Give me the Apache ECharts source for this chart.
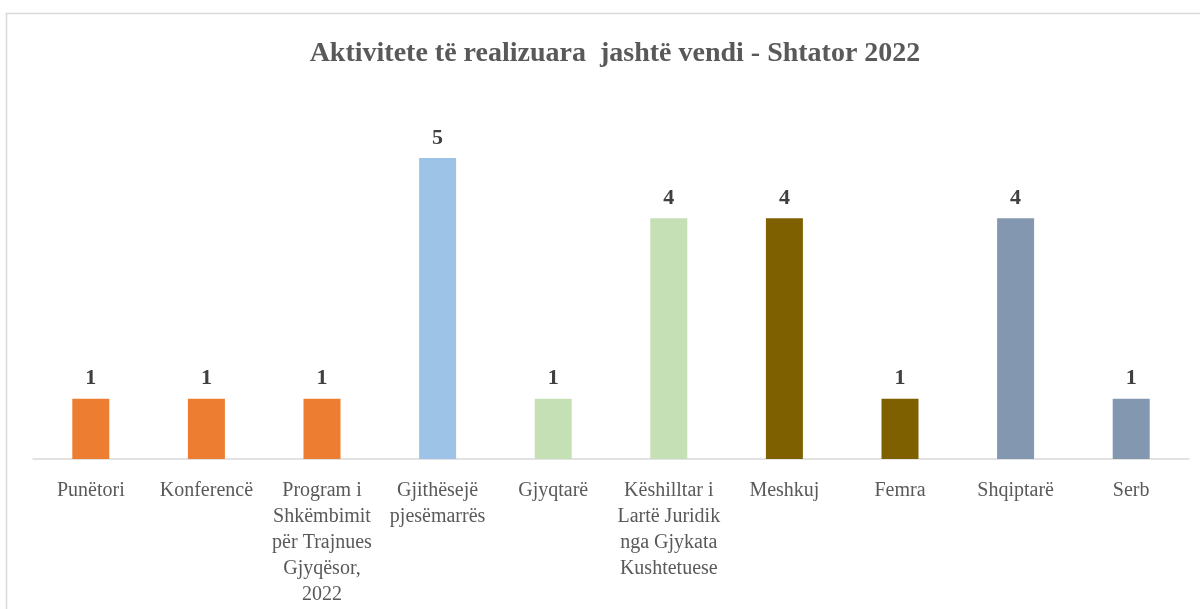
<!DOCTYPE html>
<html>
<head>
<meta charset="utf-8">
<script src="https://cdn.jsdelivr.net/npm/echarts@6/dist/echarts.min.js"></script>
<style>
  html, body { margin: 0; padding: 0; background: #fff; }
  #main { width: 1200px; height: 609px; }
</style>
</head>
<body>
<div id="main"></div>
<script>
var myChart = echarts.init(document.getElementById('main'), null, {renderer: 'canvas'});

// data
var categories = [
    'Punëtori',
    'Konferencë',
    'Program i\nShkëmbimit\npër Trajnues\nGjyqësor,\n2022',
    'Gjithësejë\npjesëmarrës',
    'Gjyqtarë',
    'Këshilltar i\nLartë Juridik\nnga Gjykata\nKushtetuese',
    'Meshkuj',
    'Femra',
    'Shqiptarë',
    'Serb'
];
var values = [1, 1, 1, 5, 1, 4, 4, 1, 4, 1];
var barColors = ['#ED7D31', '#ED7D31', '#ED7D31', '#9DC3E6', '#C5E0B4',
                 '#C5E0B4', '#7F6000', '#7F6000', '#8497B0', '#8497B0'];

var option = {
    backgroundColor: '#fff',
    animation: false,
    title: {
        text: 'Aktivitete të realizuara  jashtë vendi - Shtator 2022',
        left: 610,
        textAlign: 'center',
        top: 35,
        textStyle: {
            fontFamily: 'Liberation Serif',
            fontWeight: 'bold',
            fontSize: 28,
            color: '#595959'
        }
    },
    graphic: [{
        type: 'rect',
        shape: {x: 6.5, y: 13.5, width: 1300, height: 700},
        style: {fill: 'none', stroke: '#d9d9d9', lineWidth: 1.5},
        silent: true
    }],
    grid: {
        left: 33,
        right: 11,
        top: 158,
        bottom: 150
    },
    xAxis: {
        type: 'category',
        data: categories,
        axisLine: {lineStyle: {color: '#d9d9d9', width: 1.5}},
        axisTick: {show: false},
        axisLabel: {
            interval: 0,
            margin: 19,
            fontFamily: 'Liberation Serif',
            fontSize: 20,
            lineHeight: 26,
            color: '#595959',
            verticalAlign: 'top'
        }
    },
    yAxis: {
        type: 'value',
        min: 0,
        max: 5,
        show: false,
        splitLine: {show: false}
    },
    series: [{
        name: 'Aktivitete',
        type: 'bar',
        barWidth: 37,
        data: values.map(function (v, i) {
            return {value: v, itemStyle: {color: barColors[i]}};
        }),
        label: {
            show: true,
            position: 'top',
            distance: 9,
            fontFamily: 'Liberation Serif',
            fontWeight: 'bold',
            fontSize: 22,
            color: '#404040'
        }
    }]
};

myChart.setOption(option);
</script>
</body>
</html>
